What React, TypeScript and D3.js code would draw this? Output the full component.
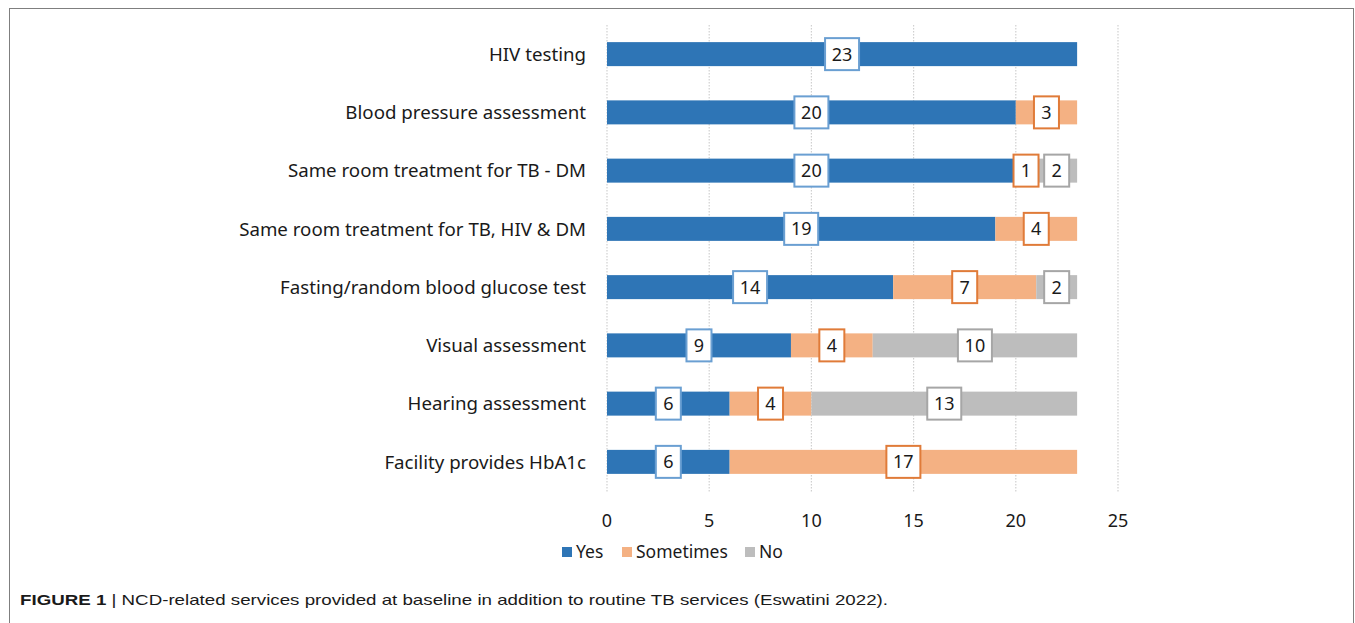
import React from "react";
import * as d3 from "d3";

const categories = [
  "HIV testing",
  "Blood pressure assessment",
  "Same room treatment for TB - DM",
  "Same room treatment for TB, HIV & DM",
  "Fasting/random blood glucose test",
  "Visual assessment",
  "Hearing assessment",
  "Facility provides HbA1c",
];
const yesValues = [23, 20, 20, 19, 14, 9, 6, 6];
const sometimesValues = [0, 3, 1, 4, 7, 4, 4, 17];
const noValues = [0, 0, 2, 0, 2, 10, 13, 0];
const seriesNames = ["Yes", "Sometimes", "No"];
const xTicks = [0, 5, 10, 15, 20, 25];
const caption = "NCD-related services provided at baseline in addition to routine TB services (Eswatini 2022).";

const fills = ["#2E75B6", "#F4B183", "#BDBDBD"];
const borders = ["#6A9FD2", "#E07B39", "#A6A6A6"];
const FONT = "'Noto Sans', 'Open Sans', sans-serif";

export default function App() {
  const W = 1355, H = 623;
  const x = d3.scaleLinear().domain([0, 25]).range([607, 1118]);
  const y = d3.scalePoint<string>().domain(categories).range([25, 491]).padding(0.5);
  const barH = 24;
  const series = [yesValues, sometimesValues, noValues];

  const segs: { cat: string; i: number; s: number; x0: number; x1: number; v: number }[] = [];
  categories.forEach((cat, i) => {
    let acc = 0;
    series.forEach((vals, s) => {
      const v = vals[i];
      if (v > 0) segs.push({ cat, i, s, x0: acc, x1: acc + v, v });
      acc += v;
    });
  });

  return (
    <svg width={W} height={H} style={{ position: "absolute", left: 0, top: 0, background: "#fff" }}>
      <rect x={9.5} y={8.5} width={1344} height={640} fill="#fff" stroke="#7f7f7f" strokeWidth={1} />
      {xTicks.map((t) => (
        <line key={"g" + t} x1={x(t)} x2={x(t)} y1={25} y2={493} stroke="#d0d0d0" strokeWidth={1.2} strokeDasharray="1.5,1.5" />
      ))}
      {segs.map((d, k) => (
        <rect key={"b" + k} x={x(d.x0)} y={(y(d.cat) as number) - barH / 2} width={x(d.x1) - x(d.x0)} height={barH} fill={fills[d.s]} />
      ))}
      {segs.map((d, k) => {
        const cx = (x(d.x0) + x(d.x1)) / 2;
        const cy = y(d.cat) as number;
        const w = String(d.v).length > 1 ? 34 : 25;
        const h = 32;
        return (
          <g key={"l" + k}>
            <rect x={cx - w / 2} y={cy - h / 2} width={w} height={h} fill="#fff" stroke={borders[d.s]} strokeWidth={2} />
            <text x={cx} y={cy} dy="0.36em" textAnchor="middle" fontFamily={FONT} fontSize={18} fill="#1a1a1a">{d.v}</text>
          </g>
        );
      })}
      {categories.map((c) => (
        <text key={"c" + c} x={586} y={y(c) as number} dy="0.36em" textAnchor="end" fontFamily={FONT} fontSize={18.7} fill="#1a1a1a">{c}</text>
      ))}
      {xTicks.map((t) => (
        <text key={"t" + t} x={x(t)} y={521} dy="0.36em" textAnchor="middle" fontFamily={FONT} fontSize={18} fill="#1a1a1a">{t}</text>
      ))}
      {(() => {
        const items = [
          { sq: 562, tx: 576 },
          { sq: 622, tx: 636 },
          { sq: 745, tx: 759 },
        ];
        return seriesNames.map((n, s) => (
          <g key={"lg" + n}>
            <rect x={items[s].sq} y={547} width={10} height={10} fill={fills[s]} />
            <text x={items[s].tx} y={552} dy="0.36em" fontFamily={FONT} fontSize={17.5} fill="#1a1a1a">{n}</text>
          </g>
        ));
      })()}
      <text x={20} y={600} dy="0.36em" fontFamily="'Liberation Sans Narrow', 'Liberation Sans', Arial, sans-serif" fontSize={15} fill="#1a1a1a" textLength={868} lengthAdjust="spacingAndGlyphs">
        <tspan fontWeight="bold">FIGURE 1</tspan>
        <tspan> | {caption}</tspan>
      </text>
    </svg>
  );
}
